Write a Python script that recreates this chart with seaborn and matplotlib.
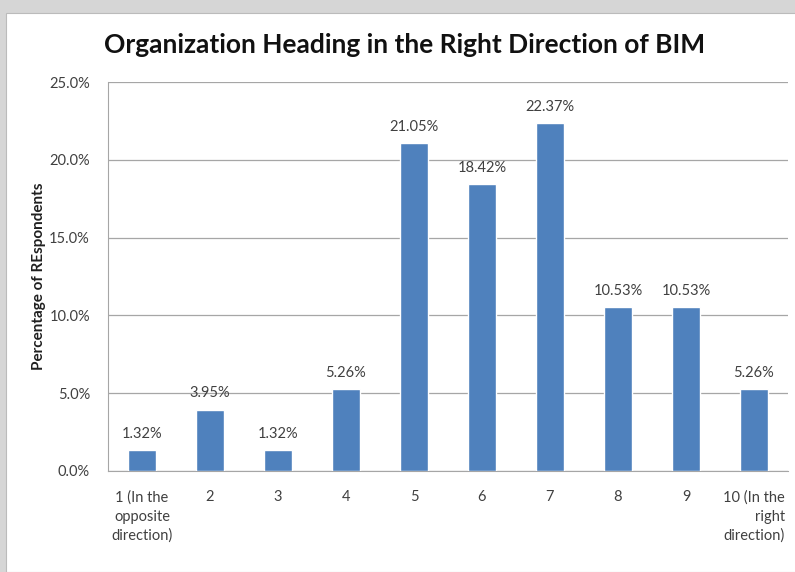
"""
Organization heading in the right direction of BIM - bar chart
"""

import matplotlib
matplotlib.use("Agg")
import matplotlib.pyplot as plt
import seaborn as sns
import pandas as pd
from matplotlib.ticker import FuncFormatter
from matplotlib.patches import Rectangle

categories = ['1 (In the\nopposite\ndirection)', '2', '3', '4', '5', '6', '7', '8', '9',
              '10 (In the\nright\ndirection)']
percentages = [1.32, 3.95, 1.32, 5.26, 21.05, 18.42, 22.37, 10.53, 10.53, 5.26]
y_ticks = [0, 5, 10, 15, 20, 25]

sns.set_style('white')
plt.rcParams['font.family'] = ['Lato', 'DejaVu Sans']

df = pd.DataFrame({'category': categories, 'pct': percentages})

fig = plt.figure(figsize=(7.95, 5.72), dpi=100, facecolor='#d6d6d6')
# white chart card on top of gray background
card = Rectangle((6 / 795, 0), 1, (572 - 13) / 572, transform=fig.transFigure,
                 facecolor='white', edgecolor='#bbbbbb', lw=0.8, zorder=-10)
fig.add_artist(card)
ax = fig.add_axes([108 / 795, 1 - 471 / 572, 680 / 795, (471 - 82) / 572])
ax.set_zorder(5)
ax.patch.set_alpha(0)

sns.barplot(data=df, x='category', y='pct', color='#4F81BD', saturation=1,
            width=0.4, ax=ax, zorder=3)

ax.set_xlim(-0.5, len(categories) - 0.5)
ax.set_ylim(0, 25)
ax.set_yticks(y_ticks)
ax.yaxis.set_major_formatter(FuncFormatter(lambda v, p: f'{v:.1f}%'))
ax.grid(axis='y', color='#a6a6a6', lw=0.9, zorder=0)
ax.set_axisbelow(True)

for s in ['top', 'right']:
    ax.spines[s].set_visible(False)
ax.spines['left'].set_color('#a6a6a6')
ax.spines['bottom'].set_color('#a6a6a6')

ax.tick_params(axis='both', labelsize=10.5, colors='#404040', length=0)
ax.tick_params(axis='x', pad=14)
ax.tick_params(axis='y', pad=13)
xlabels = ax.get_xticklabels()
for lbl in xlabels:
    lbl.set_linespacing(1.45)
xlabels[-1].set_multialignment('right')

for i, v in enumerate(percentages):
    ax.text(i, v + 0.6, f'{v:.2f}%', ha='center', va='bottom', fontsize=10.5, color='#404040')

ax.set_xlabel('')
ax.set_ylabel('Percentage of REspondents', fontsize=11, fontweight='bold', color='#202020',
              labelpad=2)
fig.text(0.509, 0.921, 'Organization Heading in the Right Direction of BIM', ha='center',
         va='center', fontsize=19, fontweight='bold', color='#111111')

plt.savefig('out.png', dpi=100, facecolor=fig.get_facecolor())
